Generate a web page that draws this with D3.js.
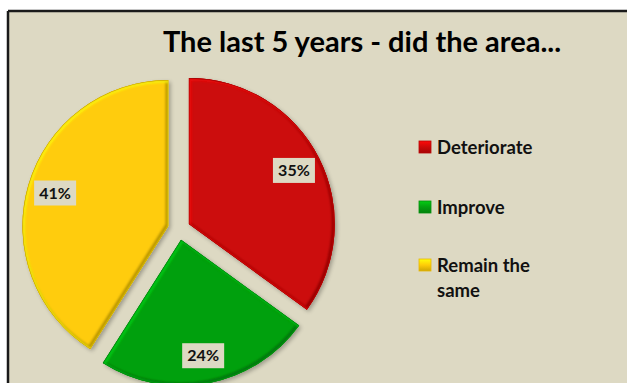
<!DOCTYPE html>
<html>
<head>
<meta charset="utf-8">
<script src="https://cdn.jsdelivr.net/npm/d3@7/dist/d3.min.js"></script>
<style>
  html, body { margin: 0; padding: 0; background: #ffffff; }
  svg { display: block; }
</style>
</head>
<body>
<svg id="chart" width="627" height="383"></svg>
<script>
// Survey answers: change in the area over the last 5 years
const categories = ["Deteriorate", "Improve", "Remain the same"];
const values = [35, 24, 41];
const legendLines = [["Deteriorate"], ["Improve"], ["Remain the", "same"]];
const sliceColors = ["#CC0808", "#04A010", "#FFCC08"];
const titleText = "The last 5 years - did the area...";

const W = 627, H = 383;
const FONT = "Lato, 'Open Sans', sans-serif";
const svg = d3.select("#chart");
const defs = svg.append("defs");

// Soft drop shadow under the slices
const shadow = defs.append("filter").attr("id", "shadow")
  .attr("x", "-10%").attr("y", "-10%").attr("width", "125%").attr("height", "125%");
shadow.append("feGaussianBlur").attr("in", "SourceAlpha").attr("stdDeviation", 2).attr("result", "sh");
shadow.append("feOffset").attr("in", "sh").attr("dx", 1.5).attr("dy", 2).attr("result", "sho");
shadow.append("feComponentTransfer").attr("in", "sho").attr("result", "shf")
  .append("feFuncA").attr("type", "linear").attr("slope", 0.3);
const merge = shadow.append("feMerge");
merge.append("feMergeNode").attr("in", "shf");
merge.append("feMergeNode").attr("in", "SourceGraphic");

// Blur used for the rounded rim highlight
defs.append("filter").attr("id", "soft")
  .append("feGaussianBlur").attr("stdDeviation", 1.2);

// Legend swatch bevel gradient
sliceColors.forEach((c, i) => {
  const g = defs.append("linearGradient").attr("id", "sw" + i)
    .attr("x1", 0).attr("y1", 0).attr("x2", 0).attr("y2", 1);
  g.append("stop").attr("offset", 0).attr("stop-color", d3.color(c).brighter(0.7));
  g.append("stop").attr("offset", 0.5).attr("stop-color", c);
  g.append("stop").attr("offset", 1).attr("stop-color", d3.color(c).darker(0.6));
});

// Chart area with dark frame on top and left
const frameX = 8, frameY = 11;
svg.append("rect").attr("x", frameX).attr("y", frameY)
  .attr("width", W - frameX).attr("height", H - frameY)
  .attr("fill", "#DDD9C3");
svg.append("line").attr("x1", frameX).attr("y1", frameY).attr("x2", W).attr("y2", frameY)
  .attr("stroke", "#1a1a1a").attr("stroke-width", 2.5);
svg.append("line").attr("x1", frameX).attr("y1", frameY).attr("x2", frameX).attr("y2", H)
  .attr("stroke", "#1a1a1a").attr("stroke-width", 2.5);

// Title
svg.append("text")
  .attr("x", 362).attr("y", 52)
  .attr("text-anchor", "middle")
  .attr("font-family", FONT)
  .attr("font-weight", "bold")
  .attr("font-size", 29)
  .attr("fill", "#000")
  .text(titleText);

// Exploded pie
const cx = 179, cy = 229, R = 146, explode = 11, labelR = 118;
const pie = d3.pie().sort(null).value(d => d.value);
const arc = d3.arc().innerRadius(0).outerRadius(R);
const data = categories.map((c, i) => ({ name: c, value: values[i], color: sliceColors[i] }));
const arcs = pie(data);
const total = d3.sum(values);

arcs.forEach((d, i) => {
  defs.append("clipPath").attr("id", "clip" + i).append("path").attr("d", arc(d));
});

const pieG = svg.append("g").attr("transform", `translate(${cx},${cy})`);
const slices = pieG.selectAll("g.slice").data(arcs).join("g")
  .attr("class", "slice")
  .attr("transform", d => {
    const a = (d.startAngle + d.endAngle) / 2;
    return `translate(${explode * Math.sin(a)},${-explode * Math.cos(a)})`;
  });

slices.append("path")
  .attr("d", arc)
  .attr("fill", d => d.data.color)
  .attr("filter", "url(#shadow)");

// Rounded rim: light edge toward the top-left, dark edge toward the bottom-right
const rim = slices.append("g").attr("clip-path", (d, i) => `url(#clip${i})`);
rim.append("path")
  .attr("d", arc)
  .attr("fill", "none")
  .attr("stroke", d => d3.color(d.data.color).darker(0.9))
  .attr("stroke-width", 4)
  .attr("filter", "url(#soft)")
  .attr("transform", "translate(-1,-1)");
rim.append("path")
  .attr("d", arc)
  .attr("fill", "none")
  .attr("stroke", d => d3.color(d.data.color).brighter(0.8))
  .attr("stroke-width", 3)
  .attr("opacity", 0.8)
  .attr("filter", "url(#soft)")
  .attr("transform", "translate(1,1)");
rim.append("path")
  .attr("d", arc)
  .attr("fill", "none")
  .attr("stroke", d => d3.color(d.data.color).darker(0.7))
  .attr("stroke-width", 1);

// Percentage labels on boxes
const pct = d3.format(".0%");
const lbl = slices.append("g")
  .attr("transform", d => {
    const a = (d.startAngle + d.endAngle) / 2;
    return `translate(${labelR * Math.sin(a)},${-labelR * Math.cos(a)})`;
  });
lbl.append("rect")
  .attr("x", -21).attr("y", -12.5).attr("width", 42).attr("height", 25)
  .attr("fill", "#DDD9C3");
lbl.append("text")
  .attr("text-anchor", "middle")
  .attr("dy", "0.36em")
  .attr("font-family", FONT)
  .attr("font-weight", "bold")
  .attr("font-size", 16)
  .attr("fill", "#111")
  .text(d => pct(d.data.value / total));

// Legend
const legendY = [147, 207, 265];
const legend = svg.append("g");
const items = legend.selectAll("g").data(data).join("g")
  .attr("transform", (d, i) => `translate(419,${legendY[i]})`);
items.append("rect")
  .attr("x", 0).attr("y", -6).attr("width", 12).attr("height", 12)
  .attr("fill", (d, i) => `url(#sw${i})`)
  .attr("stroke", d => d3.color(d.color).darker(0.3))
  .attr("stroke-width", 0.8);
items.append("text")
  .attr("y", 6.5)
  .attr("font-family", FONT)
  .attr("font-weight", "bold")
  .attr("font-size", 18.5)
  .attr("fill", "#111")
  .selectAll("tspan").data((d, i) => legendLines[i]).join("tspan")
  .attr("x", 18)
  .attr("dy", (t, j) => j === 0 ? 0 : 25)
  .text(t => t);
</script>
</body>
</html>
